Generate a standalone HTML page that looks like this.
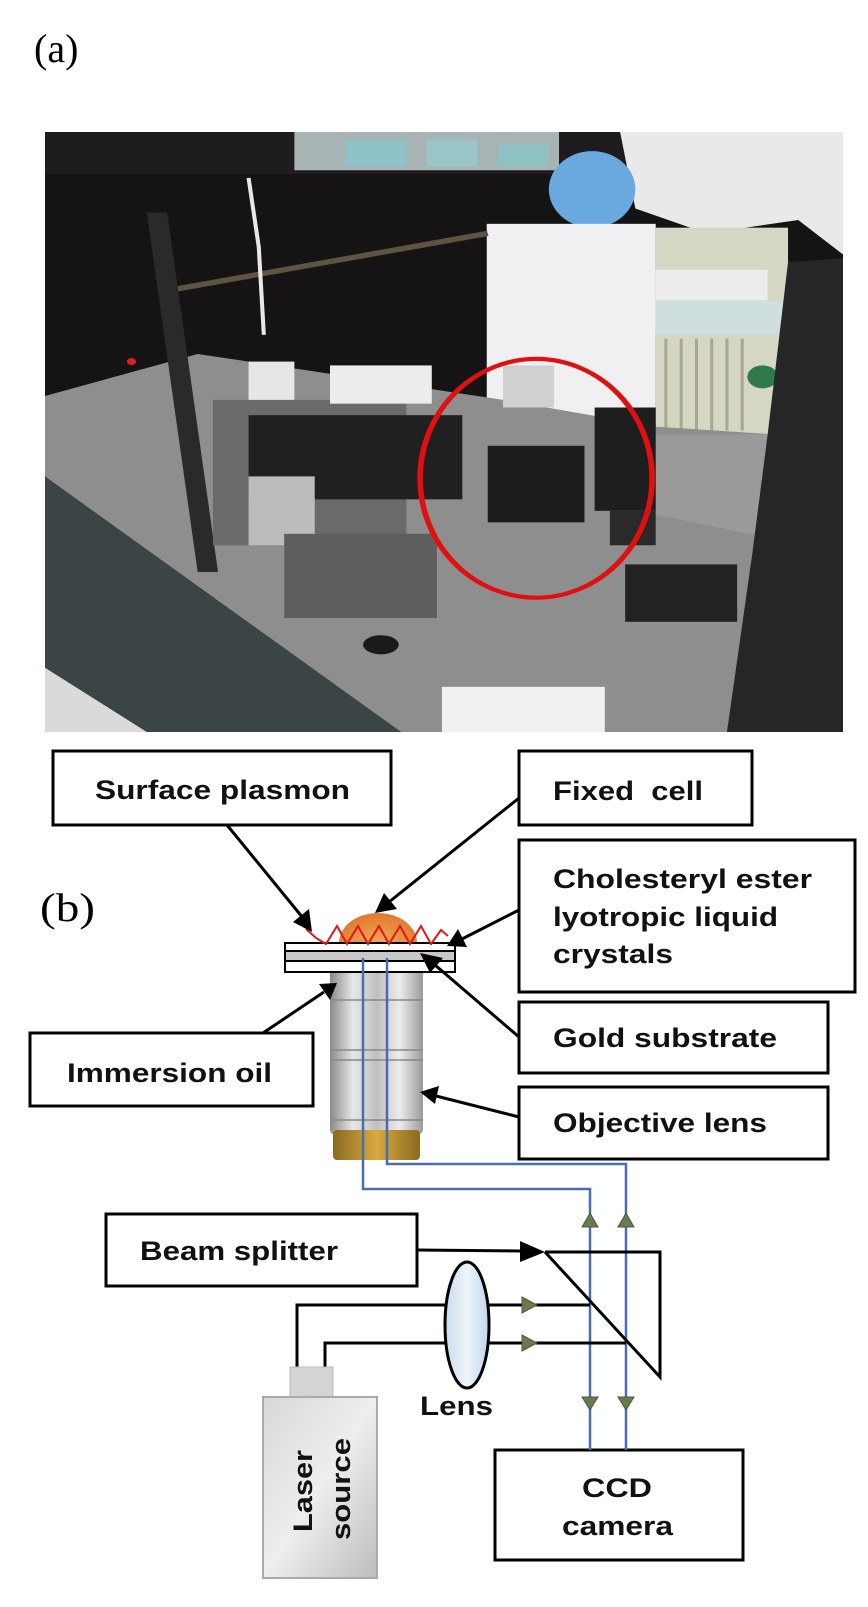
<!DOCTYPE html>
<html><head><meta charset="utf-8"><style>
html,body{margin:0;padding:0;background:#fff;}
svg{display:block}
.lb{font-family:"Liberation Sans",Arial,sans-serif;font-weight:bold;font-size:27px;fill:#111}
.tm{font-family:"Liberation Serif","Times New Roman",serif;font-size:40px;fill:#000}
</style></head><body>
<svg width="868" height="1607" viewBox="0 0 868 1607" xmlns="http://www.w3.org/2000/svg">
<defs>
<marker id="ah" markerWidth="10" markerHeight="10" refX="9" refY="5" orient="auto" markerUnits="userSpaceOnUse" viewBox="0 0 10 10">
</marker>
<linearGradient id="sil" x1="0" x2="1" y1="0" y2="0">
<stop offset="0" stop-color="#8a8a8a"/><stop offset="0.25" stop-color="#e8e8e8"/><stop offset="0.5" stop-color="#bfbfbf"/><stop offset="0.75" stop-color="#ededed"/><stop offset="1" stop-color="#9a9a9a"/></linearGradient>
<linearGradient id="gold" x1="0" x2="1"><stop offset="0" stop-color="#8a6a20"/><stop offset="0.5" stop-color="#d8aa40"/><stop offset="1" stop-color="#8a6a20"/></linearGradient>
<radialGradient id="cell" cx="0.5" cy="0.6" r="0.6"><stop offset="0" stop-color="#f6b060"/><stop offset="1" stop-color="#e07a30"/></radialGradient>
<linearGradient id="las" x1="0" y1="0" x2="1" y2="1"><stop offset="0" stop-color="#d8d8d8"/><stop offset="0.5" stop-color="#eeeeee"/><stop offset="1" stop-color="#bdbdbd"/></linearGradient>
<linearGradient id="lensg" x1="0" x2="1"><stop offset="0" stop-color="#c8dcef"/><stop offset="0.5" stop-color="#eef4fb"/><stop offset="1" stop-color="#c0d6ec"/></linearGradient>
</defs>
<rect width="868" height="1607" fill="#fff"/>

<text class="tm" x="34" y="62">(a)</text>

<!-- Photo -->
<svg x="45" y="132" width="798" height="600" viewBox="0 0 1568 1568" preserveAspectRatio="none">
<rect width="1568" height="1568" fill="#151313"/>
<rect x="0" y="0" width="1568" height="110" fill="#1e1c1e"/>
<rect x="490" y="0" width="520" height="100" fill="#a7b4b3"/>
<rect x="590" y="20" width="120" height="70" fill="#8fc2c6"/>
<rect x="750" y="20" width="100" height="70" fill="#9ac6c8"/>
<rect x="890" y="30" width="100" height="60" fill="#8fc0c2"/>
<polygon points="1130,0 1568,0 1568,320 1480,230 1300,265 1160,200" fill="#e9e9ea"/>
<rect x="1200" y="250" width="260" height="550" fill="#d6d6c4"/>
<rect x="1200" y="360" width="220" height="80" fill="#ececec"/>
<rect x="1200" y="440" width="250" height="90" fill="#cfdede"/>
<g stroke="#a8a890" stroke-width="6">
<line x1="1220" y1="540" x2="1220" y2="780"/><line x1="1250" y1="540" x2="1250" y2="780"/><line x1="1280" y1="540" x2="1280" y2="780"/><line x1="1310" y1="540" x2="1310" y2="780"/><line x1="1340" y1="540" x2="1340" y2="780"/><line x1="1370" y1="540" x2="1370" y2="780"/></g>
<circle cx="1410" cy="640" r="30" fill="#2f7a4a"/>
<ellipse cx="1075" cy="150" rx="85" ry="100" fill="#6aa9e0"/>
<rect x="868" y="240" width="332" height="560" fill="#f0f0f2"/>
<line x1="260" y1="410" x2="870" y2="265" stroke="#5e5444" stroke-width="14"/>
<path d="M400,120 L420,300 L430,530" stroke="#e8e8e8" stroke-width="8" fill="none"/>
<polygon points="0,690 300,580 900,700 1200,770 1430,790 1400,1568 620,1568 0,900" fill="#8e8e8f"/>
<polygon points="1200,790 1430,790 1420,1060 1200,1000" fill="#9a9a9a"/>
<polygon points="0,900 700,1568 0,1568" fill="#3b4545"/>
<polygon points="0,1400 200,1568 0,1568" fill="#dadada"/>
<polygon points="1460,340 1568,330 1568,1568 1340,1568 1390,1100 1420,790" fill="#262626"/>
<polygon points="200,210 240,210 340,1150 300,1150" fill="#2a2a2a"/>
<rect x="330" y="700" width="380" height="380" fill="#6a6a6a"/>
<rect x="400" y="600" width="90" height="100" fill="#e6e6e6"/>
<rect x="560" y="610" width="200" height="100" fill="#ececec"/>
<rect x="400" y="740" width="420" height="220" fill="#202020"/>
<rect x="400" y="900" width="130" height="180" fill="#bcbcbc"/>
<rect x="470" y="1050" width="300" height="220" fill="#5e5e5e"/>
<rect x="870" y="820" width="190" height="200" fill="#1c1c1c"/>
<rect x="1080" y="720" width="120" height="270" fill="#1e1e1e"/>
<rect x="1110" y="990" width="90" height="90" fill="#2a2a2a"/>
<rect x="1140" y="1130" width="220" height="150" fill="#222"/>
<rect x="900" y="610" width="100" height="110" fill="#d0d0d0"/>
<rect x="780" y="1450" width="320" height="118" fill="#f0f0f0"/>
<ellipse cx="660" cy="1340" rx="35" ry="25" fill="#1a1a1a"/>
<circle cx="170" cy="600" r="9" fill="#e02020"/>
<ellipse cx="965" cy="905" rx="228" ry="312" fill="none" stroke="#e01010" stroke-width="11"/>
</svg>

<!-- Boxes -->
<g fill="#fff" stroke="#000" stroke-width="3">
<rect x="53" y="751" width="338" height="74"/>
<rect x="519" y="751" width="233" height="74"/>
<rect x="519" y="840" width="336" height="152"/>
<rect x="519" y="1002" width="309" height="71"/>
<rect x="30" y="1033" width="283" height="73"/>
<rect x="519" y="1087" width="309" height="72"/>
<rect x="106" y="1214" width="311" height="72"/>
<rect x="495" y="1450" width="248" height="110"/>
</g>
<text class="lb" x="95" y="799" textLength="255" lengthAdjust="spacingAndGlyphs">Surface plasmon</text>
<text class="lb" x="553" y="800" textLength="150" lengthAdjust="spacingAndGlyphs" xml:space="preserve">Fixed  cell</text>
<text class="lb" x="553" y="888" textLength="259" lengthAdjust="spacingAndGlyphs">Cholesteryl ester</text>
<text class="lb" x="553" y="926" textLength="225" lengthAdjust="spacingAndGlyphs">lyotropic liquid</text>
<text class="lb" x="553" y="963" textLength="120" lengthAdjust="spacingAndGlyphs">crystals</text>
<text class="lb" x="553" y="1047" textLength="224" lengthAdjust="spacingAndGlyphs">Gold substrate</text>
<text class="lb" x="553" y="1132" textLength="214" lengthAdjust="spacingAndGlyphs">Objective lens</text>
<text class="lb" x="67" y="1082" textLength="205" lengthAdjust="spacingAndGlyphs">Immersion oil</text>
<text class="lb" x="140" y="1260" textLength="198" lengthAdjust="spacingAndGlyphs">Beam splitter</text>
<text class="lb" x="582" y="1497" textLength="70" lengthAdjust="spacingAndGlyphs">CCD</text>
<text class="lb" x="562" y="1535" textLength="111" lengthAdjust="spacingAndGlyphs">camera</text>
<text class="lb" x="420" y="1415" textLength="73" lengthAdjust="spacingAndGlyphs">Lens</text>

<text class="tm" x="40" y="921" textLength="55" lengthAdjust="spacingAndGlyphs">(b)</text>

<!-- Objective lens -->
<rect x="330" y="965" width="93" height="170" rx="6" fill="url(#sil)"/>
<rect x="333" y="1130" width="87" height="30" rx="4" fill="url(#gold)"/>
<polygon points="345,965 408,965 398,953 355,953" fill="#111"/>
<g stroke="#888" stroke-width="1.5" fill="none">
<line x1="330" y1="1000" x2="423" y2="1000"/><line x1="330" y1="1050" x2="423" y2="1050"/><line x1="330" y1="1060" x2="423" y2="1060"/><line x1="330" y1="1120" x2="423" y2="1120"/></g>

<!-- Cell and substrate -->
<ellipse cx="378" cy="943" rx="39" ry="30" fill="url(#cell)"/>
<rect x="285" y="943" width="170" height="29" fill="#fff" stroke="#000" stroke-width="2"/>
<rect x="286" y="951" width="168" height="10" fill="#c8c8c8"/>
<line x1="285" y1="951" x2="455" y2="951" stroke="#000" stroke-width="2"/>
<line x1="285" y1="961" x2="455" y2="961" stroke="#000" stroke-width="2"/>
<polyline points="306,929 316,938 326,944 337,926 347,944 358,926 368,944 379,926 389,944 400,926 410,944 421,926 431,944 441,930 448,936" fill="none" stroke="#e01818" stroke-width="2"/>

<!-- Blue optical paths -->
<g fill="none" stroke="#4a6db0" stroke-width="2.5">
<polyline points="363,958 363,1189 590,1189 590,1450"/>
<polyline points="387,958 387,1164 626,1164 626,1450"/>
</g>

<!-- Beam splitter prism -->
<polyline points="545,1252 660,1252 660,1377 545,1252" fill="none" stroke="#000" stroke-width="3"/>

<!-- Laser lines -->
<g fill="none" stroke="#000" stroke-width="3">
<polyline points="297,1368 297,1305 590,1305"/>
<polyline points="325,1368 325,1343 626,1343"/>
</g>
<ellipse cx="467" cy="1325" rx="22" ry="63" fill="url(#lensg)" stroke="#000" stroke-width="3"/>

<!-- green triangles -->
<g fill="#6b7850" stroke="#4e5a38" stroke-width="1">
<polygon points="522,1297 522,1313 537,1305"/>
<polygon points="522,1335 522,1351 537,1343"/>
<polygon points="582,1227 598,1227 590,1213"/>
<polygon points="618,1227 634,1227 626,1213"/>
<polygon points="582,1397 598,1397 590,1410"/>
<polygon points="618,1397 634,1397 626,1410"/>
</g>

<!-- Laser source -->
<rect x="290" y="1367" width="43" height="31" fill="#d4d4d4" stroke="#bbb"/>
<rect x="263" y="1397" width="114" height="181" fill="url(#las)" stroke="#aaa" stroke-width="2"/>
<text class="lb" transform="translate(312,1532) rotate(-90)" textLength="82" lengthAdjust="spacingAndGlyphs">Laser</text>
<text class="lb" transform="translate(350,1540) rotate(-90)" textLength="102" lengthAdjust="spacingAndGlyphs">source</text>

<!-- Arrows -->
<g stroke="#000" stroke-width="3" fill="none">
<line x1="227" y1="825" x2="303" y2="918"/>
<line x1="519" y1="798" x2="389" y2="902"/>
<line x1="519" y1="910" x2="462" y2="939"/>
<line x1="519" y1="1037" x2="435" y2="965"/>
<line x1="263" y1="1033" x2="324" y2="992"/>
<line x1="519" y1="1117" x2="436" y2="1096"/>
<line x1="417" y1="1250" x2="522" y2="1251"/>
</g>
<g fill="#000">
<polygon points="312,932 293,922 309,909"/>
<polygon points="375,913 384,893 397,909"/>
<polygon points="447,946 458,929 467,947"/>
<polygon points="420,953 443,958 430,973"/>
<polygon points="337,983 319,984 330,1000"/>
<polygon points="420,1092 439,1086 435,1104"/>
<polygon points="545,1252 520,1241 520,1262"/>
</g>
</svg>
</body></html>
